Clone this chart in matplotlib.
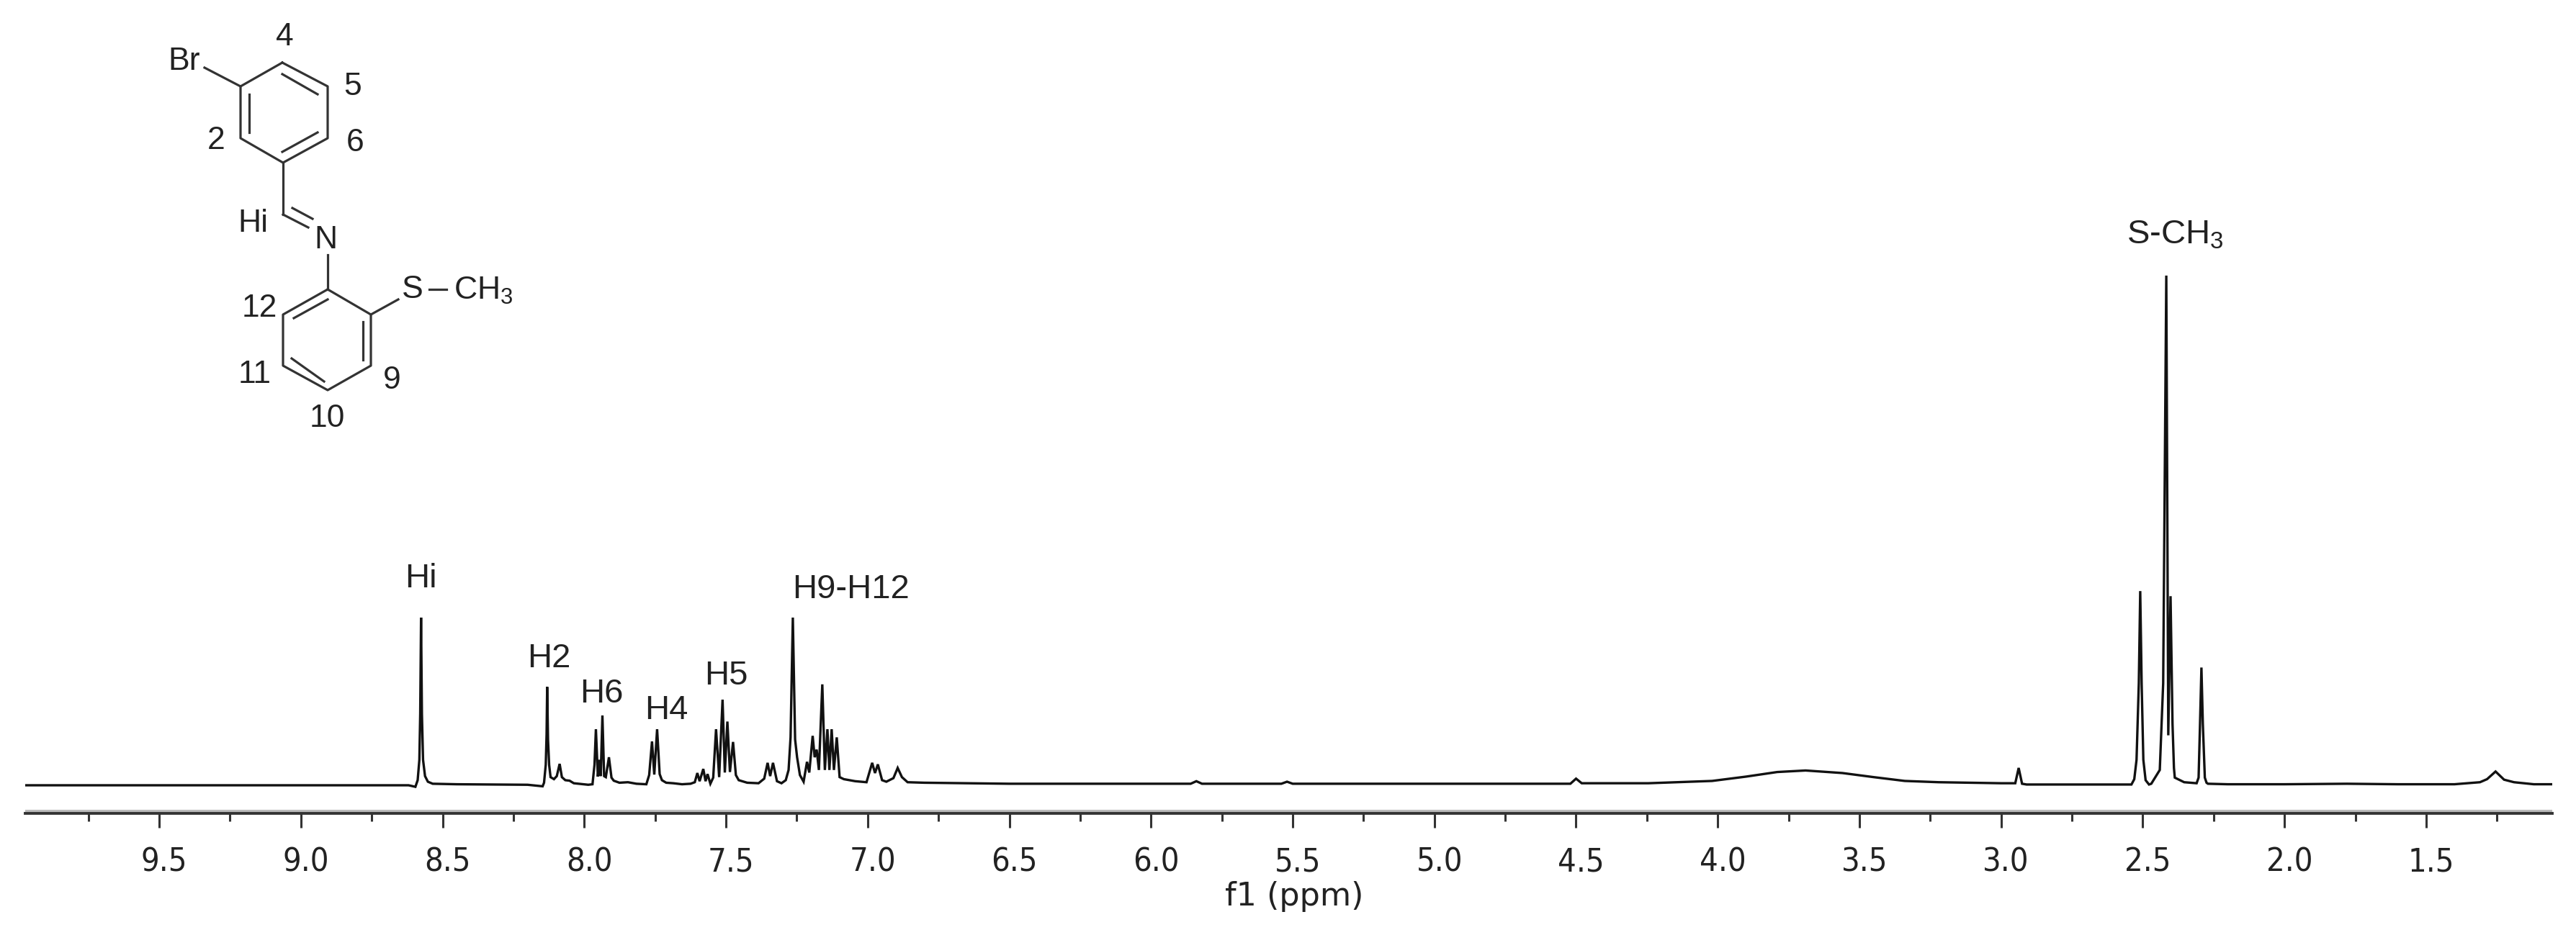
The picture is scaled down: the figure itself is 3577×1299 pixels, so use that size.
import matplotlib
matplotlib.use('Agg')
import matplotlib.pyplot as plt
import matplotlib.transforms as mtrans

plt.rcParams['font.family'] = 'DejaVu Sans'
plt.rcParams['mathtext.default'] = 'regular'

W = 3577
H = 1299

# spectrum trace (shift in ppm, intensity with S-CH3 = 100)
shift = [9.973, 9.3, 8.9, 8.62, 8.596, 8.588, 8.582, 8.579, 8.576, 8.573, 8.569, 8.562, 8.552, 8.535,
         8.45, 8.2, 8.147, 8.142, 8.136, 8.133, 8.131, 8.128, 8.124, 8.119, 8.107, 8.097, 8.087, 8.079,
         8.067, 8.052, 8.037, 7.986, 7.971, 7.964, 7.959, 7.952, 7.947, 7.942, 7.936, 7.93, 7.924, 7.913,
         7.904, 7.896, 7.876, 7.846, 7.816, 7.781, 7.771, 7.761, 7.753, 7.743, 7.734, 7.726, 7.711, 7.686,
         7.655, 7.625, 7.61, 7.601, 7.593, 7.58, 7.572, 7.565, 7.555, 7.545, 7.535, 7.524, 7.512, 7.504,
         7.495, 7.486, 7.475, 7.465, 7.455, 7.425, 7.385, 7.365, 7.353, 7.344, 7.334, 7.32, 7.304, 7.289,
         7.279, 7.272, 7.264, 7.256, 7.249, 7.239, 7.226, 7.214, 7.206, 7.194, 7.187, 7.18, 7.172, 7.16,
         7.151, 7.142, 7.135, 7.127, 7.119, 7.109, 7.099, 7.084, 7.044, 7.004, 6.984, 6.974, 6.964, 6.949,
         6.934, 6.909, 6.894, 6.879, 6.859, 6.8, 6.5, 6.2, 5.86, 5.84, 5.82, 5.54, 5.52, 5.5, 5.2,
         4.8, 4.52, 4.5, 4.48, 4.245, 4.02, 3.9, 3.79, 3.69, 3.56, 3.45, 3.34, 3.22, 3.0, 2.95, 2.938,
         2.926, 2.91, 2.72, 2.6, 2.54, 2.53, 2.522, 2.514, 2.509, 2.504, 2.498, 2.49, 2.478, 2.47, 2.44,
         2.428, 2.417, 2.41, 2.402, 2.395, 2.39, 2.387, 2.354, 2.31, 2.303, 2.298, 2.293, 2.288, 2.281, 2.275,
         2.27, 2.2, 2.0, 1.78, 1.6, 1.4, 1.31, 1.285, 1.255, 1.225, 1.19, 1.12, 1.055]
intensity = [0.0, 0.0, 0.0, 0.0, -0.3, 1.0, 5.0, 14.0, 32.9, 14.0, 5.0, 1.8, 0.7, 0.3,
             0.2, 0.1, -0.2, 0.5, 4.0, 10.0, 19.3, 9.0, 4.0, 1.6, 1.2, 1.8, 4.2, 1.6,
             1.0, 0.9, 0.4, 0.1, 0.2, 4.0, 11.0, 1.7, 5.0, 1.8, 13.7, 1.8, 1.6, 5.5,
             1.5, 0.9, 0.5, 0.6, 0.3, 0.2, 2.0, 8.6, 2.1, 11.0, 2.2, 1.0, 0.5, 0.4,
             0.2, 0.3, 0.6, 2.4, 0.8, 3.2, 0.8, 2.2, 0.3, 1.5, 11.0, 1.6, 16.8, 2.5,
             12.5, 2.6, 8.5, 2.0, 1.0, 0.5, 0.4, 1.3, 4.4, 1.8, 4.4, 0.8, 0.4, 1.0,
             3.0, 9.4, 32.9, 9.0, 5.5, 2.0, 0.7, 4.6, 2.5, 9.7, 5.5, 7.0, 3.0, 19.8,
             3.0, 11.0, 3.0, 11.0, 3.0, 9.4, 1.6, 1.2, 0.8, 0.6, 4.4, 2.4, 4.1, 1.0,
             0.7, 1.4, 3.4, 1.6, 0.6, 0.5, 0.3, 0.3, 0.3, 0.8, 0.3, 0.3, 0.7, 0.3, 0.3,
             0.3, 0.3, 1.3, 0.4, 0.4, 0.85, 1.7, 2.6, 2.9, 2.4, 1.6, 0.85, 0.6, 0.4, 0.4, 3.4,
             0.3, 0.15, 0.15, 0.15, 0.15, 1.2, 5.0, 20.0, 38.1, 20.0, 5.0, 1.0, 0.15, 0.3, 3.0,
             20.0, 100.0, 9.8, 37.1, 12.0, 3.4, 1.5, 0.6, 0.4, 1.5, 12.0, 23.1, 12.0, 1.5, 0.5,
             0.3, 0.2, 0.2, 0.3, 0.2, 0.2, 0.6, 1.2, 2.7, 1.1, 0.6, 0.2, 0.2]

major_ticks = [9.5, 9.0, 8.5, 8.0, 7.5, 7.0, 6.5, 6.0, 5.5, 5.0, 4.5, 4.0, 3.5, 3.0, 2.5, 2.0, 1.5]
minor_ticks = [9.75, 9.25, 8.75, 8.25, 7.75, 7.25, 6.75, 6.25, 5.75, 5.25, 4.75, 4.25, 3.75, 3.25, 2.75, 2.25, 1.75, 1.25]

# peak labels
peak_names = ['Hi', 'H2', 'H6', 'H4', 'H5', 'H9-H12', 'S-CH$_3$']
peak_x = [8.576, 8.125, 7.94, 7.71, 7.498, 7.06, 2.386]
peak_y = [40.5, 24.9, 17.9, 14.7, 21.5, 38.4, 108.0]

# molecule, in picture pixels
ring_top = [(392, 87), (455, 120), (455, 192), (393, 226), (334, 192), (334, 120), (392, 87)]
ring_low = [(455, 402), (515, 437), (515, 508), (455, 542), (393, 508), (393, 437), (455, 402)]
bonds = [((392, 103), (441, 131)), ((441, 184), (392, 211)), ((346, 131), (346, 184)),
         ((334, 120), (284, 94)), ((393, 226), (393, 298)), ((393, 298), (428, 316)),
         ((406, 289), (434, 304)), ((455, 354), (455, 402)), ((504, 447), (504, 500)),
         ((405, 498), (450, 530)), ((408, 442), (455, 416)), ((515, 437), (553, 416)),
         ((596, 402), (620, 402))]
atoms = ['Br', 'N', 'S', 'CH$_3$', '4', '5', '6', '2', 'Hi', '12', '11', '9', '10']
atom_x = [256, 452, 573, 671, 395, 490, 493, 300, 351, 360, 354, 544, 454]
atom_y = [85, 333, 402, 404, 51, 120, 198, 195, 310, 428, 520, 528, 581]

fig = plt.figure(figsize=(W / 100, H / 100), dpi=100, facecolor='white')

# axis line at y=1130 px, x from 35 to 3544 px
ax = fig.add_axes([35 / W, 1 - 1130 / H, (3544 - 35) / W, (1130 - 300) / H])
ax.plot(shift, intensity, color='#111111', lw=2.4, solid_joinstyle='miter')
ax.set_xlim(9.973, 1.055)
ax.set_ylim(-5.51, 111.7)
for s in ['top', 'left', 'right']:
    ax.spines[s].set_visible(False)
ax.spines['bottom'].set_linewidth(2.8)
ax.spines['bottom'].set_color('#333333')
ax.axhline(-5.0, color='#bbbbbb', lw=2.2)
ax.set_yticks([])
ax.set_xticks(major_ticks)
ax.set_xticklabels(['%.1f' % t for t in major_ticks])
ax.set_xticks(minor_ticks, minor=True)
ax.tick_params(axis='x', which='major', length=14.4, width=2.2, color='#333333',
               labelsize=32.5, labelcolor='#222222', pad=19)
ax.tick_params(axis='x', which='minor', length=8, width=2.2, color='#333333')
shift_right = mtrans.ScaledTranslation(7 / 100, 0, fig.dpi_scale_trans)
for lab in ax.get_xticklabels():
    lab.set_fontstretch('condensed')
    lab.set_transform(lab.get_transform() + shift_right)
ax.set_xlabel('f1 (ppm)', fontsize=32, color='#222222')
ax.xaxis.set_label_coords(0.5 + 7.5 / 3509, -0.113)

for name, px, py in zip(peak_names, peak_x, peak_y):
    ax.text(px, py, name, ha='center', va='center', fontsize=34,
            family='Liberation Sans', color='#222222')

# overlay for the structure
mol = fig.add_axes([0, 0, 1, 1])
mol.set_xlim(0, W)
mol.set_ylim(H, 0)
mol.axis('off')
mol.patch.set_alpha(0)
for ring in (ring_top, ring_low):
    mol.plot([p[0] for p in ring], [p[1] for p in ring], color='#333333', lw=2.3)
for a, b in bonds:
    mol.plot([a[0], b[0]], [a[1], b[1]], color='#333333', lw=2.3)
for t, px, py in zip(atoms, atom_x, atom_y):
    mol.text(px, py, t, ha='center', va='center', fontsize=32,
             family='Liberation Sans', color='#222222')

fig.savefig('out.png', dpi=100, facecolor='white')
